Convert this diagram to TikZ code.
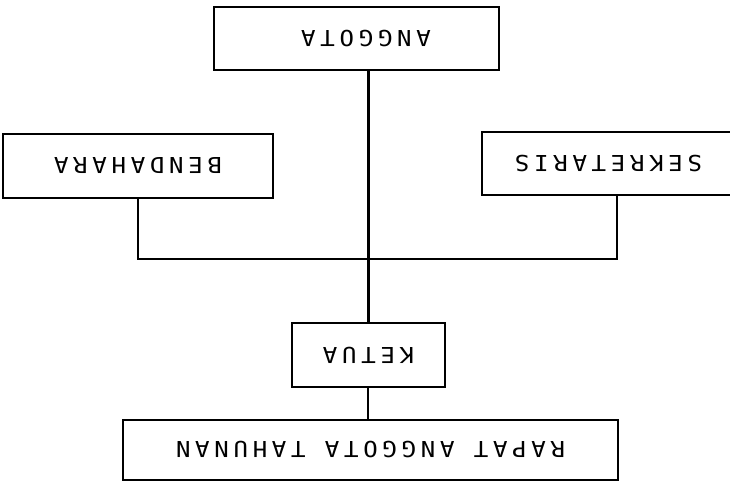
\documentclass[tikz,border=0pt]{standalone}
\usepackage{fontspec}
\usepackage{graphicx}
\newfontfamily\plotfont{DejaVu Sans Mono}[FakeStretch=1.1,LetterSpace=21]
\newcommand{\flip}[1]{\rotatebox{180}{#1}}
\begin{document}
\begin{tikzpicture}[x=1pt,y=-1pt,
  orgbox/.style={draw, line width=2pt, rectangle, inner sep=0pt,
                 font=\plotfont\fontsize{22}{26}\selectfont},
  link/.style={line width=2pt},
  spine/.style={line width=3.6pt}]
  \useasboundingbox (0,0) rectangle (730,484);
  \clip (0,0) rectangle (730,484);
  \fill[white] (0,0) rectangle (730,484);

  % boxes
  \node[orgbox, minimum width=285pt, minimum height=63pt] (angg) at (356,38.5)
       {\flip{ANGGOTA\hspace*{20pt}}};
  \node[orgbox, minimum width=270pt, minimum height=64pt] (bend) at (138,166)
       {\flip{BENDAHARA}};
  \node[orgbox, minimum width=253pt, minimum height=63pt] (sek) at (608.5,163.5)
       {\flip{SEKRETARIS}};
  \node[orgbox, minimum width=153pt, minimum height=64pt] (ketua) at (368.5,355)
       {\flip{KETUA}};
  \node[orgbox, minimum width=495pt, minimum height=60pt] (rapat) at (370.5,450)
       {\flip{RAPAT ANGGOTA TAHUNAN}};

  \coordinate (bus) at (368.5,259);

  % connectors
  \draw[spine] (ketua.north |- angg.south) -- (bus);
  \draw[line width=2.8pt] (bus) -- (ketua.north);
  \draw[link] (bend.south) |- (bus) -| ([xshift=8.5pt]sek.south);
  \draw[link] ([xshift=-0.5pt]ketua.south) -- ([xshift=-0.5pt]ketua.south |- rapat.north);
\end{tikzpicture}
\end{document}
